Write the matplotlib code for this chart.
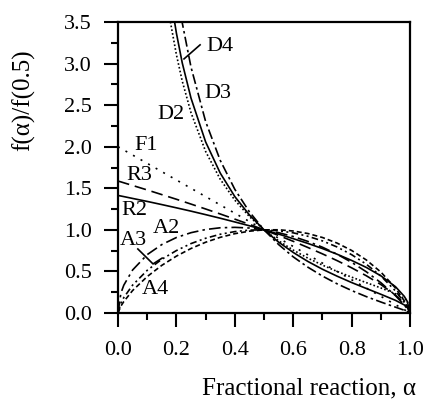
import matplotlib
matplotlib.use("Agg")
import matplotlib.pyplot as plt
from matplotlib.ticker import MultipleLocator

plt.rcParams['font.family'] = ['Liberation Serif', 'DejaVu Serif']

# fractional reaction grid for F, R and A models
alpha = [0, 0.01, 0.02, 0.05, 0.1, 0.15, 0.2, 0.25, 0.3, 0.35, 0.4, 0.45, 0.5,
         0.55, 0.6, 0.65, 0.7, 0.75, 0.8, 0.85, 0.9, 0.95, 0.98, 0.99, 1.0]
F1 = [2.0, 1.98, 1.96, 1.9, 1.8, 1.7, 1.6, 1.5, 1.4, 1.3, 1.2, 1.1, 1.0,
      0.9, 0.8, 0.7, 0.6, 0.5, 0.4, 0.3, 0.2, 0.1, 0.04, 0.02, 0]
R2 = [1.414, 1.407, 1.400, 1.378, 1.342, 1.304, 1.265, 1.225, 1.183, 1.140, 1.095, 1.049, 1.0,
      0.949, 0.894, 0.837, 0.775, 0.707, 0.632, 0.548, 0.447, 0.316, 0.200, 0.141, 0]
R3 = [1.587, 1.577, 1.566, 1.534, 1.480, 1.424, 1.368, 1.310, 1.251, 1.191, 1.129, 1.066, 1.0,
      0.932, 0.862, 0.788, 0.711, 0.630, 0.543, 0.448, 0.342, 0.215, 0.117, 0.074, 0]
A2 = [0, 0.239, 0.335, 0.517, 0.702, 0.823, 0.908, 0.966, 1.004, 1.025, 1.030, 1.022, 1.0,
      0.966, 0.920, 0.861, 0.791, 0.707, 0.609, 0.496, 0.364, 0.208, 0.095, 0.052, 0]
A3 = [0, 0.118, 0.186, 0.335, 0.513, 0.646, 0.751, 0.835, 0.899, 0.947, 0.979, 0.997, 1.0,
      0.989, 0.964, 0.923, 0.867, 0.794, 0.701, 0.587, 0.445, 0.265, 0.127, 0.071, 0]
A4 = [0, 0.083, 0.138, 0.270, 0.438, 0.573, 0.684, 0.776, 0.851, 0.910, 0.954, 0.984, 1.0,
      1.001, 0.986, 0.956, 0.908, 0.841, 0.752, 0.638, 0.492, 0.300, 0.146, 0.083, 0]

# diffusion models start off the top of the plot
alpha_d = [0.15, 0.18, 0.2, 0.22, 0.25, 0.3, 0.35, 0.4, 0.45, 0.5, 0.55, 0.6,
           0.65, 0.7, 0.75, 0.8, 0.85, 0.9, 0.95, 0.98, 0.99, 1.0]
D2 = [4.27, 3.49, 3.107, 2.789, 2.409, 1.943, 1.609, 1.357, 1.159, 1.0, 0.868, 0.756,
      0.660, 0.576, 0.500, 0.431, 0.365, 0.301, 0.231, 0.177, 0.151, 0]
D3 = [5.58, 4.48, 3.936, 3.49, 2.957, 2.303, 1.836, 1.487, 1.216, 1.0, 0.823, 0.675,
      0.551, 0.444, 0.351, 0.270, 0.197, 0.132, 0.070, 0.033, 0.019, 0]
D4 = [4.67, 3.80, 3.366, 3.008, 2.584, 2.058, 1.683, 1.400, 1.179, 1.0, 0.852, 0.728,
      0.620, 0.526, 0.443, 0.366, 0.295, 0.225, 0.152, 0.097, 0.071, 0]

fig = plt.figure(figsize=(4.29, 4.0), dpi=100)
ax = fig.add_axes([0.275, 0.2175, 0.681, 0.7275])

lw = 1.2
ax.plot(alpha, F1, color='k', lw=lw, linestyle=(0, (1.2, 4)))
ax.plot(alpha, R3, color='k', lw=lw, linestyle=(0, (7, 3.5)))
ax.plot(alpha, R2, color='k', lw=lw, linestyle='-')
ax.plot(alpha, A2, color='k', lw=lw, linestyle=(0, (7, 2.5, 1.5, 2.5)))
ax.plot(alpha, A3, color='k', lw=lw, linestyle=(0, (4, 2, 1.2, 2, 1.2, 2)))
ax.plot(alpha, A4, color='k', lw=lw, linestyle=(0, (3, 1.8)))
ax.plot(alpha_d, D2, color='k', lw=lw, linestyle=(0, (1, 1.3)))
ax.plot(alpha_d, D4, color='k', lw=lw, linestyle='-')
ax.plot(alpha_d, D3, color='k', lw=lw, linestyle=(0, (6, 2, 1.5, 2)))

ax.set_xlim(0, 1.0)
ax.set_ylim(0, 3.5)
ax.xaxis.set_major_locator(MultipleLocator(0.2))
ax.xaxis.set_minor_locator(MultipleLocator(0.1))
ax.yaxis.set_major_locator(MultipleLocator(0.5))
ax.yaxis.set_minor_locator(MultipleLocator(0.25))
ax.xaxis.set_major_formatter(plt.FormatStrFormatter('%.1f'))
ax.yaxis.set_major_formatter(plt.FormatStrFormatter('%.1f'))
ax.tick_params(which='both', direction='out', width=1.5, labelsize=16, pad=9,
               top=False, right=False)
ax.tick_params(axis='x', which='major', pad=10)
ax.tick_params(which='major', length=10)
ax.tick_params(which='minor', length=5)
for s in ax.spines.values():
    s.set_linewidth(1.6)

ax.set_xlabel('Fractional reaction, α', fontsize=18)
ax.xaxis.set_label_coords(0.655, -0.22)
ax.set_ylabel('f(α)/f(0.5)', fontsize=18)
ax.yaxis.set_label_coords(-0.284, 0.73)

fs = 16
ax.text(0.349, 3.20, 'D4', fontsize=fs, ha='center', va='center')
ax.plot([0.226, 0.281], [3.056, 3.225], color='k', lw=1.2)
ax.text(0.342, 2.635, 'D3', fontsize=fs, ha='center', va='center')
ax.text(0.182, 2.39, 'D2', fontsize=fs, ha='center', va='center')
ax.text(0.096, 2.02, 'F1', fontsize=fs, ha='center', va='center')
ax.text(0.073, 1.65, 'R3', fontsize=fs, ha='center', va='center')
ax.text(0.056, 1.23, 'R2', fontsize=fs, ha='center', va='center')
ax.text(0.166, 1.02, 'A2', fontsize=fs, ha='center', va='center')
ax.text(0.051, 0.87, 'A3', fontsize=fs, ha='center', va='center')
ax.plot([0.068, 0.12, 0.151], [0.77, 0.59, 0.66], color='k', lw=1.2)
ax.text(0.127, 0.28, 'A4', fontsize=fs, ha='center', va='center')

fig.savefig('out.png', dpi=100)
